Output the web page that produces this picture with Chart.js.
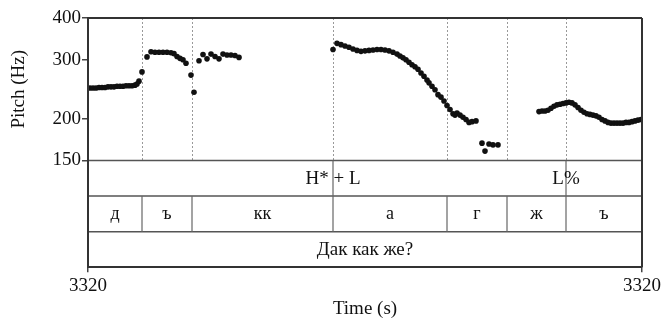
<!DOCTYPE html>
<html>
<head>
<meta charset="utf-8">
<script src="https://cdn.jsdelivr.net/npm/chart.js@4.4.0/dist/chart.umd.min.js"></script>
<style>
  html, body { margin: 0; padding: 0; background: #fff; }
  #wrap { width: 665px; height: 320px; }
</style>
</head>
<body>
<div id="wrap"><canvas id="pitchChart" width="665" height="320"></canvas></div>
<script>
// time axis: seconds after 3320 s
const timeStart = 0;
const timeEnd = 0.554;
const xTickLabels = ['3320', '3320'];
const yTicks = [150, 200, 300, 400];

// pitch track (time offset in s, pitch in Hz)
const pitchTimes = [
    0.002, 0.005, 0.008, 0.011, 0.014, 0.017, 0.020, 0.023, 0.026, 0.029, 0.032, 0.035, 0.038, 0.041, 0.044, 0.047,
    0.049, 0.051, 0.054, 0.059, 0.063, 0.067, 0.071, 0.075, 0.079, 0.083, 0.086, 0.089, 0.092, 0.095, 0.098,
    0.103, 0.106, 0.111, 0.115, 0.119, 0.123, 0.127, 0.131, 0.135, 0.139, 0.143, 0.147, 0.151,
    0.245, 0.249, 0.253, 0.257, 0.261, 0.265, 0.269, 0.273, 0.277, 0.281, 0.285, 0.289, 0.293, 0.297, 0.301,
    0.305, 0.309, 0.312, 0.315, 0.318, 0.321, 0.324, 0.327, 0.330, 0.333, 0.336, 0.339, 0.341, 0.344, 0.347,
    0.350, 0.353, 0.356, 0.359, 0.362, 0.365, 0.367, 0.369, 0.372, 0.375, 0.378, 0.381, 0.384, 0.388,
    0.394, 0.397, 0.401, 0.405, 0.410,
    0.451, 0.454, 0.457, 0.460, 0.463, 0.466, 0.469, 0.472, 0.475, 0.478, 0.481, 0.484, 0.487, 0.490, 0.493,
    0.496, 0.499, 0.502, 0.505, 0.508, 0.511, 0.514, 0.517, 0.520, 0.523, 0.526, 0.529, 0.532, 0.535, 0.538,
    0.541, 0.544, 0.547, 0.550, 0.553
];
const pitchValues = [
    247, 247, 247, 248, 248, 248, 249, 249, 249, 250, 250, 250, 251, 251, 251, 252,
    254, 259, 276, 306, 317, 316, 316, 316, 316, 315, 313, 307, 303, 300, 293,
    270, 240, 298, 311, 302, 312, 307, 302, 312, 310, 310, 309, 305,
    322, 336, 333, 330, 327, 323, 320, 318, 319, 320, 321, 322, 322, 321, 319,
    316, 312, 308, 304, 300, 295, 290, 286, 281, 274, 268, 261, 256, 250, 244,
    236, 232, 226, 219, 213, 207, 205, 208, 205, 202, 199, 195, 196, 197,
    169, 160, 168, 167, 167,
    210, 211, 211, 212, 215, 218, 220, 221, 222, 223, 224, 223, 220, 216, 212,
    209, 207, 206, 205, 204, 202, 199, 197, 195, 194, 194, 194, 194, 194, 195,
    195, 196, 197, 198, 199
];

// annotation tiers
const toneTimes = [0.245, 0.478];
const toneLabels = ['H* + L', 'L%'];
const phoneBounds = [0.054, 0.104, 0.245, 0.359, 0.419, 0.478];
const phoneLabels = ['д', 'ъ', 'кк', 'а', 'г', 'ж', 'ъ'];
const wordLabels = ['Дак как же?'];

const serif = "'Liberation Serif', 'Times New Roman', serif";
Chart.defaults.font.family = serif;
Chart.defaults.color = '#111';

const points = pitchTimes.map((t, i) => ({ x: t, y: pitchValues[i] }));

const tierPlugin = {
    id: 'tiers',
    beforeDatasetsDraw(chart) {
        const ctx = chart.ctx;
        const x = chart.scales.x;
        const y = chart.scales.y;
        ctx.save();
        ctx.strokeStyle = '#999';
        ctx.lineWidth = 1;
        ctx.setLineDash([2, 2]);
        phoneBounds.forEach(t => {
            const px = Math.round(x.getPixelForValue(t)) + 0.5;
            ctx.beginPath();
            ctx.moveTo(px, y.top);
            ctx.lineTo(px, y.bottom);
            ctx.stroke();
        });
        ctx.restore();
    },
    afterDatasetsDraw(chart) {
        const ctx = chart.ctx;
        const x = chart.scales.x;
        const y = chart.scales.y;
        const tier = chart.scales.yTier;
        const area = chart.chartArea;
        const rows = [0, 1, 2, 3].map(v => tier.getPixelForValue(v));
        ctx.save();

        // pitch box top and tier rules
        ctx.strokeStyle = '#333';
        ctx.lineWidth = 2;
        ctx.beginPath();
        ctx.moveTo(area.left, y.top);
        ctx.lineTo(area.right, y.top);
        ctx.stroke();

        ctx.strokeStyle = '#555';
        ctx.lineWidth = 1.5;
        rows.slice(0, 3).forEach(ry => {
            ctx.beginPath();
            ctx.moveTo(area.left, ry);
            ctx.lineTo(area.right, ry);
            ctx.stroke();
        });

        ctx.strokeStyle = '#333';
        ctx.lineWidth = 2;
        [area.left, area.right].forEach(px => {
            ctx.beginPath();
            ctx.moveTo(px, y.top);
            ctx.lineTo(px, rows[3]);
            ctx.stroke();
        });

        // boundaries in tone and phone tiers
        ctx.strokeStyle = '#666';
        ctx.lineWidth = 1.2;
        toneTimes.forEach(t => {
            const px = x.getPixelForValue(t);
            ctx.beginPath();
            ctx.moveTo(px, rows[0]);
            ctx.lineTo(px, rows[1]);
            ctx.stroke();
        });
        phoneBounds.forEach(t => {
            const px = x.getPixelForValue(t);
            ctx.beginPath();
            ctx.moveTo(px, rows[1]);
            ctx.lineTo(px, rows[2]);
            ctx.stroke();
        });

        // labels
        ctx.fillStyle = '#111';
        ctx.textAlign = 'center';
        ctx.textBaseline = 'middle';
        ctx.font = '19px ' + serif;
        toneTimes.forEach((t, i) => {
            ctx.fillText(toneLabels[i], x.getPixelForValue(t), (rows[0] + rows[1]) / 2 + 1);
        });
        ctx.font = '18px ' + serif;
        const edges = [timeStart].concat(phoneBounds, [timeEnd]);
        phoneLabels.forEach((lab, i) => {
            const cx = (x.getPixelForValue(edges[i]) + x.getPixelForValue(edges[i + 1])) / 2;
            ctx.fillText(lab, cx, (rows[1] + rows[2]) / 2);
        });
        ctx.font = '19px ' + serif;
        ctx.fillText(wordLabels[0], (area.left + area.right) / 2, (rows[2] + rows[3]) / 2 + 1);
        ctx.restore();
    }
};

const ctx = document.getElementById('pitchChart').getContext('2d');
const pitchChart = new Chart(ctx, {
    type: 'scatter',
    data: {
        datasets: [{
            data: points,
            xAxisID: 'x',
            yAxisID: 'y',
            pointRadius: 2.8,
            pointBackgroundColor: '#111',
            pointBorderWidth: 0,
            showLine: false
        }]
    },
    options: {
        responsive: false,
        animation: false,
        plugins: {
            legend: { display: false },
            tooltip: { enabled: false }
        },
        layout: { padding: { top: 18, right: 23, left: 0, bottom: 0 } },
        scales: {
            yTier: {
                type: 'linear',
                position: 'left',
                stack: 'pitch',
                stackWeight: 106.8,
                min: 0,
                max: 3,
                reverse: true,
                ticks: { display: false },
                grid: { display: false },
                border: { display: false },
                afterFit: s => { s.width = 88; }
            },
            y: {
                type: 'logarithmic',
                position: 'left',
                stack: 'pitch',
                stackWeight: 142.5,
                min: 150,
                max: 400,
                afterBuildTicks: s => { s.ticks = yTicks.map(v => ({ value: v })); },
                ticks: {
                    callback: v => String(v),
                    font: { size: 19 },
                    color: '#111',
                    padding: 1
                },
                grid: { drawOnChartArea: false, tickLength: 6, color: '#444', lineWidth: 1.5 },
                border: { display: true, color: '#333', width: 2 },
                title: {
                    display: true,
                    text: 'Pitch (Hz)',
                    font: { size: 19, lineHeight: 1 },
                    color: '#111',
                    padding: { top: 10, bottom: 0 }
                },
                afterFit: s => { s.width = 88; }
            },
            x: {
                type: 'linear',
                position: 'bottom',
                min: timeStart,
                max: timeEnd,
                afterBuildTicks: s => { s.ticks = [{ value: timeStart }, { value: timeEnd }]; },
                ticks: {
                    callback: (v, i) => xTickLabels[i],
                    font: { size: 19 },
                    color: '#111',
                    padding: 2,
                    maxRotation: 0,
                    autoSkip: false
                },
                grid: { drawOnChartArea: false, tickLength: 5, color: '#444', lineWidth: 1.5 },
                border: { display: true, color: '#333', width: 2 },
                title: {
                    display: true,
                    text: 'Time (s)',
                    font: { size: 19, lineHeight: 1 },
                    color: '#111',
                    padding: { top: 0, bottom: 1 }
                },
                afterFit: s => { s.height = 52.7; }
            }
        }
    },
    plugins: [tierPlugin]
});
</script>
</body>
</html>
